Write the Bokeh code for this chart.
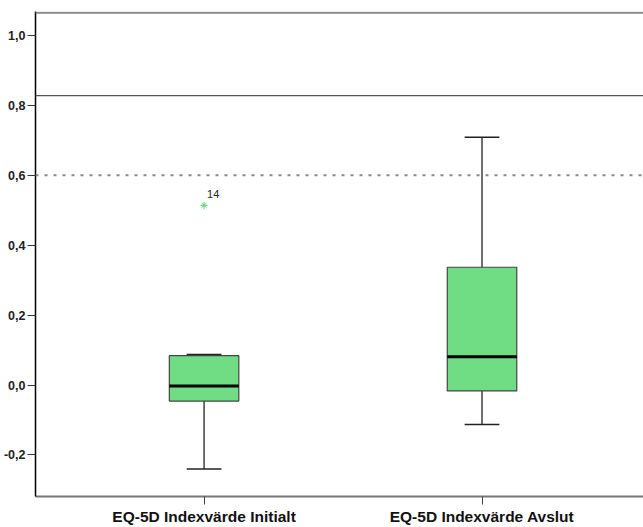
from bokeh.plotting import figure
from bokeh.models import Range1d, FixedTicker, CustomJSTickFormatter, Span, ColumnDataSource
from bokeh.embed import file_html
from bokeh.resources import INLINE
from bokeh.core.properties import value
import numpy as np

# Data
categories = ["EQ-5D Indexvärde Initialt", "EQ-5D Indexvärde Avslut"]
positions = [1, 2]
whisker_low = [-0.240, -0.113]
q1 = [-0.046, -0.017]
median = [-0.003, 0.081]
q3 = [0.084, 0.337]
whisker_high = [0.087, 0.709]
outlier_pos = [1]
outlier_val = [0.514]
outlier_label = ["14"]
y_ticks = [-0.2, 0.0, 0.2, 0.4, 0.6, 0.8, 1.0]
ref_solid = 0.828
ref_dotted = 0.6

BOX_W = 0.25
CAP_W = 0.125
FONT = "Liberation Sans"

p = figure(width=643, height=527, output_backend="svg", toolbar_location=None,
           x_range=Range1d(0.3935, 2.581), y_range=Range1d(-0.319, 1.0687),
           min_border_left=0, min_border_right=0, min_border_top=11, min_border_bottom=0)
p.background_fill_color = "white"
p.border_fill_color = "white"
p.outline_line_color = None
p.xgrid.visible = False
p.ygrid.visible = False

x = np.array(positions, dtype=float)
src = ColumnDataSource(dict(x=x, lo=whisker_low, q1=q1, med=median, q3=q3, hi=whisker_high,
                            xl=x - BOX_W / 2, xr=x + BOX_W / 2,
                            cl=x - CAP_W / 2, cr=x + CAP_W / 2))

# whisker stems
p.segment(x0="x", y0="lo", x1="x", y1="q1", source=src, line_color="#222222", line_width=1.3)
p.segment(x0="x", y0="q3", x1="x", y1="hi", source=src, line_color="#222222", line_width=1.3)
# caps
p.segment(x0="cl", y0="lo", x1="cr", y1="lo", source=src, line_color="#222222", line_width=1.5)
p.segment(x0="cl", y0="hi", x1="cr", y1="hi", source=src, line_color="#222222", line_width=1.5)
# boxes
p.vbar(x="x", width=BOX_W, bottom="q1", top="q3", source=src,
       fill_color="#70DC84", line_color="#444444", line_width=1.2)
# medians
p.segment(x0="xl", y0="med", x1="xr", y1="med", source=src, line_color="black", line_width=3)

# outlier
osrc = ColumnDataSource(dict(x=outlier_pos, y=outlier_val, t=outlier_label))
p.scatter(x="x", y="y", source=osrc, marker="asterisk", size=7, line_color="#5CD46E", line_width=1)
p.text(x="x", y="y", text="t", source=osrc, x_offset=3, y_offset=-7,
       text_font=value(FONT), text_font_size="11px", text_color="#222222",
       text_baseline="bottom", text_align="left")

# reference lines
p.add_layout(Span(location=ref_solid, dimension="width", line_color="#555555", line_width=1.2))
p.add_layout(Span(location=ref_dotted, dimension="width", line_color="#888888", line_width=2,
                  line_dash="3 6"))
p.add_layout(Span(location=1.065, dimension="width", line_color="#888888", line_width=2))

# y axis
p.yaxis.ticker = FixedTicker(ticks=y_ticks)
p.yaxis.formatter = CustomJSTickFormatter(code="return tick.toFixed(1).replace('.', ',');")
p.yaxis.axis_line_color = "black"
p.yaxis.axis_line_width = 1.5
p.yaxis.major_tick_out = 8
p.yaxis.major_tick_in = 0
p.yaxis.major_tick_line_color = "#333333"
p.yaxis.minor_tick_line_color = None
p.yaxis.major_label_standoff = 2
p.yaxis.major_label_text_font = FONT
p.yaxis.major_label_text_font_style = "bold"
p.yaxis.major_label_text_font_size = "12.5px"
p.yaxis.major_label_text_color = "#222222"

# x axis
p.xaxis.ticker = FixedTicker(ticks=positions)
p.xaxis.major_label_overrides = {pos: lab for pos, lab in zip(positions, categories)}
p.xaxis.axis_line_color = "#777777"
p.xaxis.axis_line_width = 2
p.xaxis.major_tick_out = 8
p.xaxis.major_tick_in = 0
p.xaxis.major_tick_line_color = "#444444"
p.xaxis.minor_tick_line_color = None
p.xaxis.major_label_standoff = 3
p.xaxis.major_label_text_font = FONT
p.xaxis.major_label_text_font_style = "bold"
p.xaxis.major_label_text_font_size = "15.5px"
p.xaxis.major_label_text_color = "#111111"

open("out.html", "w").write(file_html(p, INLINE))
